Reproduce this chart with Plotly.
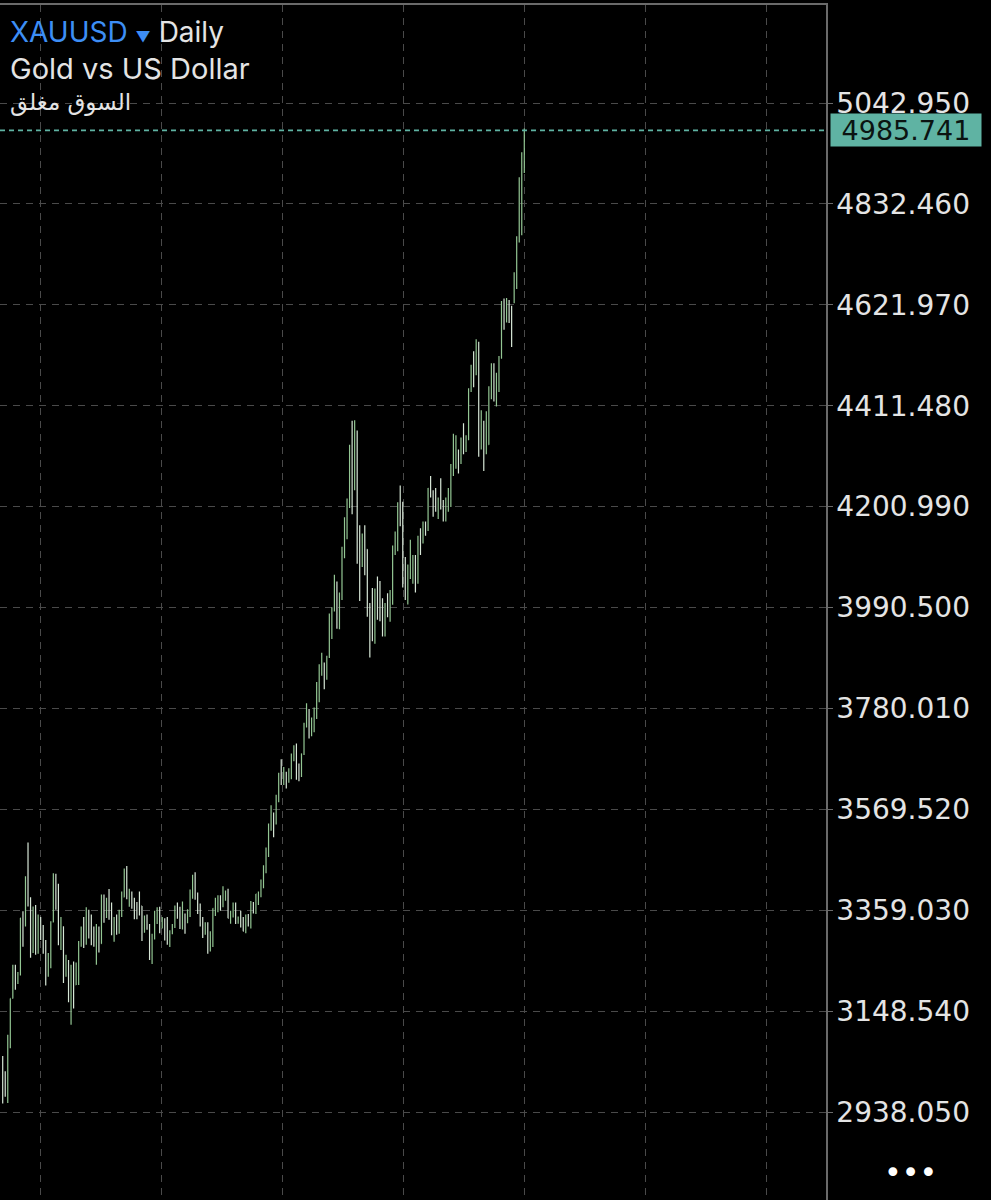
import plotly.graph_objects as go
import pandas as pd

# ---------------- data ----------------
symbol = "XAUUSD"
timeframe = "Daily"
description = "Gold vs US Dollar"
status_text = "السوق مغلق"

dates = [d.strftime("%Y-%m-%d") for d in pd.bdate_range("2025-04-07", "2026-01-23")
         if d.strftime("%m-%d") not in ("04-18", "12-25", "01-01")]

opens = [3037, 2982, 2982, 3082, 3175, 3237, 3210, 3226, 3343, 3327, 3424, 3381, 3288, 3349, 3319, 3343, 3317, 3288, 3239, 3241,
         3334, 3431, 3366, 3306, 3325, 3236, 3249, 3178, 3240, 3203, 3230, 3290, 3314, 3294, 3357, 3342, 3300, 3288, 3318, 3289,
         3381, 3353, 3373, 3352, 3310, 3325, 3322, 3355, 3386, 3433, 3384, 3388, 3369, 3369, 3368, 3368, 3323, 3333, 3328, 3274,
         3303, 3338, 3357, 3326, 3337, 3335, 3302, 3313, 3325, 3355, 3343, 3324, 3347, 3338, 3350, 3397, 3431, 3387, 3368, 3336,
         3314, 3326, 3274, 3289, 3363, 3373, 3380, 3368, 3396, 3397, 3342, 3348, 3356, 3335, 3336, 3332, 3315, 3347, 3339, 3371,
         3365, 3393, 3397, 3416, 3448, 3476, 3533, 3560, 3545, 3587, 3636, 3626, 3640, 3634, 3643, 3679, 3690, 3659, 3644, 3685,
         3746, 3763, 3736, 3749, 3760, 3833, 3859, 3866, 3857, 3887, 3961, 3985, 4040, 3976, 4018, 4110, 4143, 4209, 4326, 4251,
         4356, 4125, 4095, 4126, 4112, 3981, 3951, 3930, 4025, 4002, 4000, 3932, 3980, 3977, 4001, 4115, 4128, 4195, 4171, 4085,
         4046, 4066, 4077, 4078, 4065, 4136, 4130, 4164, 4156, 4239, 4230, 4206, 4205, 4208, 4197, 4189, 4208, 4229, 4280, 4300,
         4305, 4302, 4338, 4332, 4340, 4445, 4490, 4480, 4530, 4330, 4375, 4320, 4330, 4450, 4495, 4455, 4478, 4510, 4600, 4590,
         4625, 4615, 4630, 4670, 4760, 4830, 4935]
highs = [3055, 3023, 3099, 3175, 3245, 3245, 3230, 3343, 3357, 3430, 3500, 3386, 3367, 3370, 3350, 3345, 3328, 3297, 3270, 3336,
         3436, 3435, 3414, 3345, 3325, 3266, 3255, 3245, 3252, 3250, 3295, 3325, 3345, 3365, 3360, 3350, 3325, 3330, 3325, 3392,
         3392, 3385, 3403, 3375, 3345, 3350, 3360, 3398, 3446, 3451, 3404, 3398, 3385, 3376, 3398, 3368, 3348, 3350, 3330, 3310,
         3358, 3365, 3366, 3345, 3342, 3345, 3317, 3330, 3369, 3375, 3366, 3377, 3352, 3361, 3402, 3433, 3438, 3396, 3373, 3345,
         3334, 3334, 3315, 3363, 3385, 3390, 3390, 3409, 3400, 3404, 3358, 3375, 3375, 3346, 3358, 3345, 3350, 3351, 3378, 3376,
         3393, 3398, 3423, 3453, 3490, 3540, 3578, 3563, 3600, 3646, 3674, 3658, 3648, 3655, 3686, 3703, 3707, 3665, 3686, 3750,
         3791, 3779, 3761, 3782, 3835, 3872, 3896, 3876, 3890, 3978, 3991, 4059, 4045, 4022, 4117, 4179, 4218, 4330, 4380, 4381,
         4360, 4162, 4145, 4162, 4112, 4000, 4031, 4030, 4055, 4046, 4010, 4000, 4020, 4027, 4120, 4149, 4210, 4245, 4211, 4096,
         4080, 4132, 4100, 4100, 4140, 4156, 4170, 4170, 4240, 4265, 4235, 4240, 4220, 4260, 4215, 4220, 4240, 4290, 4353, 4350,
         4320, 4345, 4375, 4350, 4448, 4497, 4525, 4550, 4545, 4402, 4380, 4400, 4452, 4500, 4500, 4480, 4515, 4630, 4635, 4636,
         4632, 4620, 4690, 4765, 4888, 4940, 4990]
lows = [2956, 2970, 2957, 3071, 3175, 3193, 3205, 3223, 3283, 3325, 3367, 3260, 3270, 3266, 3268, 3297, 3268, 3202, 3220, 3238,
        3334, 3360, 3286, 3276, 3207, 3220, 3167, 3120, 3154, 3203, 3203, 3283, 3280, 3287, 3300, 3286, 3283, 3245, 3271, 3289,
        3333, 3343, 3339, 3307, 3293, 3308, 3310, 3345, 3386, 3382, 3366, 3362, 3340, 3340, 3348, 3295, 3312, 3318, 3255, 3247,
        3298, 3330, 3311, 3321, 3296, 3287, 3282, 3309, 3322, 3341, 3320, 3319, 3310, 3332, 3345, 3383, 3381, 3351, 3325, 3301,
        3308, 3268, 3273, 3282, 3347, 3355, 3358, 3365, 3379, 3342, 3331, 3344, 3330, 3331, 3323, 3315, 3311, 3325, 3321, 3352,
        3351, 3370, 3386, 3405, 3436, 3470, 3525, 3511, 3538, 3584, 3620, 3620, 3613, 3625, 3632, 3670, 3631, 3628, 3637, 3683,
        3740, 3717, 3722, 3730, 3758, 3793, 3848, 3820, 3840, 3885, 3925, 3982, 3946, 3945, 4006, 4093, 4133, 4198, 4185, 4235,
        4082, 4004, 4075, 4058, 3971, 3886, 3920, 3915, 3965, 3962, 3930, 3930, 3970, 3961, 3996, 4100, 4108, 4160, 4032, 4006,
        3997, 4050, 4040, 4022, 4040, 4100, 4124, 4140, 4150, 4220, 4180, 4190, 4175, 4195, 4170, 4170, 4190, 4200, 4265, 4280,
        4270, 4290, 4310, 4315, 4340, 4440, 4450, 4475, 4305, 4320, 4275, 4310, 4330, 4425, 4420, 4410, 4440, 4510, 4570, 4585,
        4584, 4534, 4625, 4655, 4752, 4767, 4897]
closes = [2982, 2982, 3082, 3175, 3237, 3210, 3226, 3343, 3327, 3424, 3381, 3288, 3349, 3319, 3343, 3317, 3288, 3239, 3241, 3334,
          3431, 3366, 3306, 3325, 3236, 3249, 3178, 3240, 3203, 3230, 3290, 3314, 3294, 3357, 3342, 3300, 3288, 3318, 3289, 3381,
          3353, 3373, 3352, 3310, 3325, 3322, 3355, 3386, 3433, 3384, 3388, 3369, 3369, 3368, 3368, 3323, 3333, 3328, 3274, 3303,
          3338, 3357, 3326, 3337, 3335, 3302, 3313, 3325, 3355, 3343, 3324, 3347, 3338, 3350, 3397, 3431, 3387, 3368, 3336, 3314,
          3326, 3274, 3289, 3363, 3373, 3380, 3368, 3396, 3397, 3342, 3348, 3356, 3335, 3336, 3332, 3315, 3347, 3339, 3371, 3365,
          3393, 3397, 3416, 3448, 3476, 3533, 3560, 3545, 3587, 3636, 3626, 3640, 3634, 3643, 3679, 3690, 3659, 3644, 3685, 3746,
          3763, 3736, 3749, 3760, 3833, 3859, 3866, 3857, 3887, 3961, 3985, 4040, 3976, 4018, 4110, 4143, 4209, 4326, 4251, 4356,
          4125, 4095, 4126, 4112, 3981, 3951, 3930, 4025, 4002, 4000, 3932, 3980, 3977, 4001, 4115, 4128, 4195, 4171, 4085, 4046,
          4066, 4077, 4078, 4065, 4136, 4130, 4164, 4156, 4239, 4230, 4206, 4205, 4208, 4197, 4189, 4208, 4229, 4280, 4300, 4305,
          4302, 4338, 4332, 4340, 4445, 4490, 4480, 4530, 4330, 4375, 4320, 4330, 4450, 4495, 4455, 4478, 4510, 4600, 4590, 4625,
          4615, 4595, 4670, 4760, 4830, 4935, 4985.741]

y_ticks = [2938.050, 3148.540, 3359.030, 3569.520, 3780.010, 3990.500,
           4200.990, 4411.480, 4621.970, 4832.460, 5042.950]
last_price = closes[-1]

n = len(closes)
x_idx = list(range(n))

# ---------------- geometry / style ----------------
W, H = 991, 1200
PLOT_R = 826      # right edge of plot area (px)
PLOT_T = 5        # top edge of plot area (px)
px_per_usd = (1112 - 103) / (y_ticks[-1] - y_ticks[0])
y_hi = y_ticks[-1] + (103 - PLOT_T) / px_per_usd
y_lo = y_ticks[0] - (H - 1112) / px_per_usd
bar_px = 2.532
first_px = 2.7
x_lo = -first_px / bar_px
x_hi = (PLOT_R - first_px) / bar_px

BG = "#000000"
GRID = "#4a4a4a"
AXIS = "#6a6a6a"
TXT = "#e4e4e4"
UP = "#93c693"
DN = "#d6e6d6"
TEAL = "#5fb3a3"
BLUE = "#3d8ef5"


def px_x(px):
    return px / PLOT_R


def px_y(py):
    return (H - py) / (H - PLOT_T)


fig = go.Figure(go.Ohlc(
    x=x_idx, open=opens, high=highs, low=lows, close=closes,
    text=dates, hoverinfo="text+y",
    increasing=dict(line=dict(color=UP, width=1.2)),
    decreasing=dict(line=dict(color=DN, width=1.2)),
    tickwidth=0.2,
))

fig.update_layout(
    width=W, height=H,
    margin=dict(l=0, r=W - PLOT_R, t=PLOT_T, b=0, pad=0),
    paper_bgcolor=BG, plot_bgcolor=BG,
    showlegend=False,
    xaxis=dict(
        range=[x_lo, x_hi], rangeslider=dict(visible=False),
        showticklabels=False, ticks="",
        tickmode="linear", tick0=(40 - first_px) / bar_px, dtick=121 / bar_px,
        showgrid=True, gridcolor=GRID, griddash="7px,6px", gridwidth=1,
        zeroline=False, side="top", showline=True, linecolor=AXIS, linewidth=1.5,
        fixedrange=True,
    ),
    yaxis=dict(
        side="right", range=[y_lo, y_hi],
        tickmode="array", tickvals=y_ticks, ticktext=[f"{v:.3f}" for v in y_ticks],
        showgrid=True, gridcolor=GRID, griddash="7px,6px", gridwidth=1,
        showline=True, linecolor=AXIS, linewidth=1.5,
        ticks="outside", ticklen=5, tickcolor=AXIS,
        tickfont=dict(family="DejaVu Sans", size=28, color=TXT),
        ticklabelstandoff=-2,
        zeroline=False, fixedrange=True,
    ),
)

# current price dotted line
fig.add_shape(type="line", xref="paper", yref="y", x0=0, x1=1, y0=last_price, y1=last_price,
              line=dict(color=TEAL, width=1.6, dash="5px,4px"))

# current price label box
fig.add_annotation(xref="paper", yref="y", x=1, y=last_price, xanchor="left", yanchor="middle",
                   xshift=4, width=150, height=32, bgcolor=TEAL, borderpad=0,
                   text=f"{last_price:.3f}", showarrow=False, align="center",
                   font=dict(family="DejaVu Sans", size=27, color="#0b1412"))

# header texts
fig.add_annotation(xref="paper", yref="paper", x=px_x(8), y=px_y(32), xanchor="left", yanchor="middle",
                   showarrow=False,
                   text=(f"<span style='color:{BLUE}'>{symbol}</span> "
                         f"<span style='color:{BLUE};font-size:15px'>▼</span> {timeframe}"),
                   font=dict(family="Inter", size=28, color=TXT))
fig.add_annotation(xref="paper", yref="paper", x=px_x(8), y=px_y(69), xanchor="left", yanchor="middle",
                   showarrow=False, text=description,
                   font=dict(family="Inter", size=29, color=TXT))
fig.add_annotation(xref="paper", yref="paper", x=px_x(8), y=px_y(103), xanchor="left", yanchor="middle",
                   showarrow=False, text=status_text,
                   font=dict(family="DejaVu Sans", size=23, color=TXT))

# menu dots bottom right
fig.add_annotation(xref="paper", yref="paper", x=px_x(910), y=px_y(1172), xanchor="center", yanchor="middle",
                   showarrow=False, text="•••",
                   font=dict(family="DejaVu Sans", size=30, color="#ffffff"))

fig.write_html("out.html", config={"displayModeBar": False},
               post_script="document.body.style.margin='0px';document.body.style.overflow='hidden';")
